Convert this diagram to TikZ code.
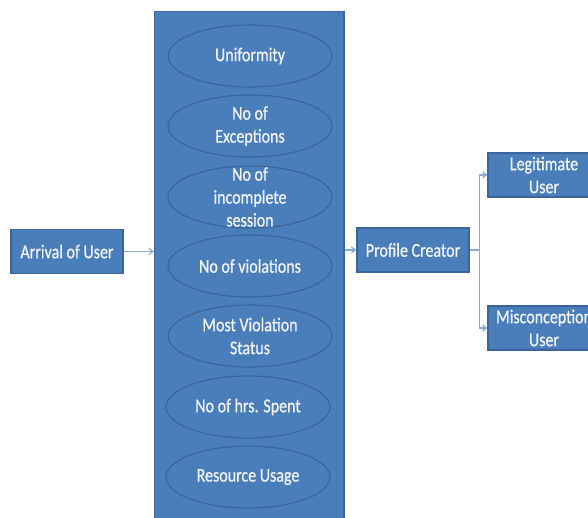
\documentclass[tikz,border=0pt]{standalone}
\usepackage{fontspec}
\setmainfont{Carlito}
\newfontfamily\tfont[FakeBold=0.6]{Carlito}
\usetikzlibrary{shapes.geometric,arrows.meta}
\definecolor{boxfill}{HTML}{4A7EBB}
\definecolor{boxline}{HTML}{3A649A}
\definecolor{conn}{HTML}{8AA8D4}
\definecolor{txt}{HTML}{F4F6FA}
\begin{document}
\begin{tikzpicture}[x=1pt,y=-1pt,
  box/.style={rectangle,draw=boxline,line width=1.2pt,fill=boxfill,
    minimum width=112pt,minimum height=44pt,inner sep=0pt},
  oval/.style={ellipse,draw=boxline,line width=1.2pt,fill=boxfill,
    minimum width=164pt,minimum height=62pt,inner sep=0pt},
  etext/.style={text=txt,align=center,inner sep=0pt,yscale=1.22,transform shape,
    font=\tfont\fontsize{16}{18.8}\selectfont},
  conline/.style={draw=conn,line width=1.2pt,-{Straight Barb[length=4pt,width=6pt]}}
]
\useasboundingbox (0,0) rectangle (588,517);
\clip (0,0) rectangle (588,517);
\fill[white] (0,0) rectangle (588,517);

\node[rectangle,draw=boxline,line width=1.2pt,fill=boxfill,minimum width=189.5pt,
  minimum height=520pt,inner sep=0pt,anchor=north] (big) at (249.25,11) {};

\node[oval] (e1) at (250,56) {};
\node[oval] (e2) at (250,126) {};
\node[oval] (e3) at (250,197) {};
\node[oval] (e4) at (250,266) {};
\node[oval] (e5) at (250,336) {};
\node[oval] (e6) at (248,407) {};
\node[oval] (e7) at (248,477) {};

\node[etext] (t1) at (e1) {Uniformity};
\node[etext] (t2) at (e2) {No of\\Exceptions};
\node[etext] (t3) at (e3) {No of\\incomplete\\session};
\node[etext] (t4) at (e4) {No of violations};
\node[etext] (t5) at (e5) {Most Violation\\Status};
\node[etext] (t6) at (e6) {No of hrs. Spent};
\node[etext] (t7) at (e7) {Resource Usage};

\node[box] (arr) at (67,251.5) {};
\node[box] (pc) at (413,250) {};
\node[box] (leg) at (544,175) {};
\node[box] (mis) at (544,328) {};
\node[etext] (ta) at (arr) {Arrival of User};
\node[etext] (tp) at (pc) {Profile Creator};
\node[etext] (tl) at (leg) {Legitimate\\User};
\node[etext] (tm) at (mis) {Misconception\\User};

\draw[conline] (arr.east) -- (arr.east -| big.west);
\draw[conline] (pc.west -| big.east) -- (pc.west);
\draw[conline] (pc.east) -- ++(10,0) |- (leg.west);
\draw[conline] (pc.east) -- ++(10,0) |- (mis.west);
\end{tikzpicture}
\end{document}
